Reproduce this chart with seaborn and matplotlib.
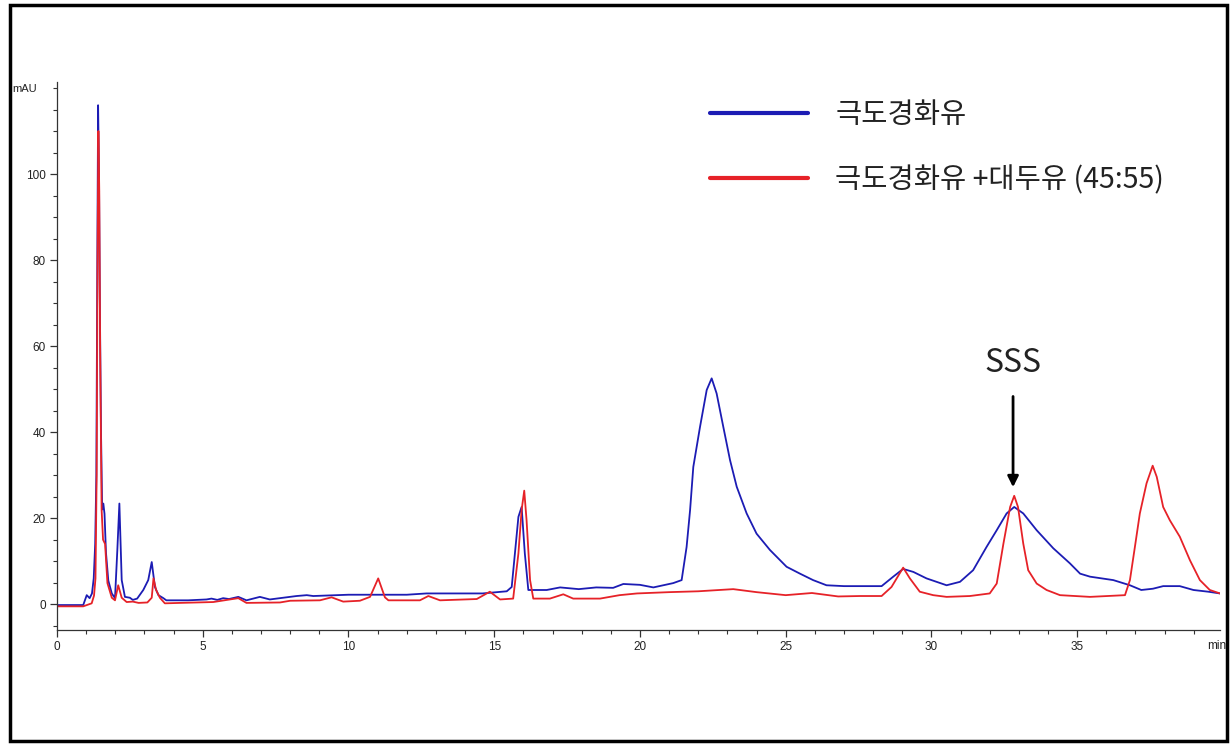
import matplotlib
matplotlib.use("Agg")
import numpy as np
import pandas as pd
import seaborn as sns
import matplotlib.pyplot as plt
from matplotlib.patches import Rectangle
from matplotlib.ticker import MultipleLocator
from matplotlib.lines import Line2D

# ---------------- data ----------------
series_names = ["극도경화유", "극도경화유 +대두유 (45:55)"]

blue_t = [0.0, 0.5, 0.9, 1.02, 1.12, 1.2, 1.26, 1.31, 1.35, 1.38, 1.41, 1.44, 1.47, 1.51, 1.55,
          1.59, 1.63, 1.68, 1.76, 1.88, 1.99, 2.07, 2.14, 2.22, 2.33, 2.5, 2.6, 2.75, 2.96,
          3.13, 3.25, 3.36, 3.48, 3.65, 3.75, 4.5, 5.13, 5.3, 5.5, 5.7, 5.9, 6.22, 6.5, 6.96,
          7.3, 8.22, 8.57, 8.79, 10.0, 12.0, 12.68, 14.6, 15.43, 15.6, 15.71, 15.83, 15.94,
          16.05, 16.17, 16.8, 17.26, 17.9, 18.5, 19.08, 19.43, 20.0, 20.46, 21.14, 21.43,
          21.6, 21.72, 21.83, 22.06, 22.29, 22.46, 22.63, 22.86, 23.09, 23.32, 23.66, 24.0,
          24.46, 25.03, 25.49, 25.94, 26.4, 27.0, 27.55, 28.29, 28.69, 29.03, 29.38, 29.83,
          30.52, 30.98, 31.43, 31.89, 32.24, 32.58, 32.84, 33.15, 33.61, 34.18, 34.75, 35.1,
          35.44, 36.24, 36.81, 37.2, 37.6, 37.95, 38.52, 38.99, 39.5, 39.9]
blue_v = [-0.2, -0.2, -0.2, 2.1, 1.4, 2.5, 6.0, 14.0, 30.0, 75.0, 116.0, 100.0, 70.0, 40.0, 22.0,
          23.4, 21.0, 12.0, 5.5, 2.5, 1.4, 12.6, 23.4, 5.6, 1.7, 1.5, 1.0, 1.3, 3.3,
          5.6, 9.8, 4.0, 2.1, 1.4, 0.9, 0.9, 1.1, 1.3, 1.0, 1.4, 1.2, 1.7, 0.9, 1.7,
          1.1, 1.9, 2.1, 1.9, 2.2, 2.2, 2.5, 2.5, 3.0, 4.0, 11.8, 20.3, 22.6,
          11.8, 3.3, 3.3, 3.9, 3.5, 3.9, 3.8, 4.7, 4.5, 3.9, 4.9, 5.6,
          13.3, 21.9, 31.9, 41.2, 49.8, 52.5, 49.0, 41.2, 33.5, 27.3, 21.1, 16.4,
          12.6, 8.7, 7.1, 5.6, 4.4, 4.2, 4.2, 4.2, 6.4, 8.2, 7.5, 6.0,
          4.4, 5.2, 7.9, 13.3, 17.2, 21.1, 22.6, 21.1, 17.2, 13.0, 9.5, 7.1,
          6.4, 5.6, 4.4, 3.3, 3.6, 4.2, 4.2, 3.3, 2.9, 2.5]

red_t = [0.0, 0.5, 0.9, 1.19, 1.27, 1.32, 1.36, 1.39, 1.42, 1.45, 1.48, 1.53, 1.58, 1.65,
         1.73, 1.88, 1.99, 2.1, 2.22, 2.39, 2.6, 2.8, 3.1, 3.25, 3.31, 3.4, 3.53, 3.7,
         4.22, 5.36, 5.93, 6.22, 6.5, 7.65, 8.0, 9.02, 9.42, 9.82, 10.39, 10.74, 11.02,
         11.25, 11.37, 12.45, 12.74, 13.14, 14.4, 14.85, 15.2, 15.65, 15.83, 15.94, 16.03,
         16.11, 16.23, 16.34, 16.91, 17.37, 17.71, 18.63, 19.3, 19.9, 21.0, 22.0, 23.2,
         24.0, 25.0, 25.9, 26.8, 27.55, 28.29, 28.63, 29.03, 29.26, 29.6, 30.06, 30.52,
         31.32, 32.0, 32.24, 32.47, 32.7, 32.84, 32.97, 33.15, 33.32, 33.61, 33.95, 34.41,
         35.44, 36.64, 36.81, 36.98, 37.15, 37.38, 37.59, 37.73, 37.95, 38.18, 38.52,
         38.87, 39.21, 39.55, 39.9]
red_v = [-0.5, -0.5, -0.5, 0.2, 2.0, 6.0, 30.0, 80.0, 110.0, 96.0, 60.0, 22.0, 15.0, 14.0,
         4.9, 1.5, 0.9, 4.4, 1.5, 0.5, 0.6, 0.3, 0.4, 1.5, 6.0, 3.3, 1.5, 0.2,
         0.3, 0.5, 1.1, 1.4, 0.3, 0.4, 0.8, 0.9, 1.6, 0.6, 0.8, 1.7, 6.0,
         1.6, 0.9, 0.9, 1.9, 0.9, 1.2, 2.9, 1.1, 1.3, 11.8, 21.9, 26.4,
         19.5, 5.6, 1.3, 1.3, 2.3, 1.3, 1.3, 2.1, 2.5, 2.8, 3.0, 3.5,
         2.8, 2.1, 2.6, 1.8, 1.9, 1.9, 4.0, 8.5, 6.0, 2.9, 2.1, 1.7,
         1.9, 2.5, 4.8, 14.1, 22.6, 25.2, 22.6, 14.1, 7.9, 4.8, 3.3, 2.1,
         1.7, 2.1, 5.6, 13.3, 21.1, 28.1, 32.2, 29.6, 22.6, 19.5, 15.7,
         10.2, 5.6, 3.3, 2.5]

x_major = [0, 5, 10, 15, 20, 25, 30, 35]
y_major = [0, 20, 40, 60, 80, 100]
annot_label = "SSS"
annot_x = 32.8
annot_tip = 27.2
annot_text_y = 56.0

# ---------------- styling ----------------
sns.set_theme(style="white")
plt.rcParams['font.family'] = ['Liberation Sans', 'DejaVu Sans']
blue = "#1c1cb4"
red = "#e62228"
cjk = ["Noto Sans CJK KR", "DejaVu Sans"]

W, H = 1232, 745
fig = plt.figure(figsize=(W / 100, H / 100), dpi=100)
ax = fig.add_axes([57 / W, 1 - 630 / H, (1220 - 57) / W, (630 - 82) / H])

df = pd.concat([
    pd.DataFrame({"t": blue_t, "v": blue_v, "series": series_names[0]}),
    pd.DataFrame({"t": red_t, "v": red_v, "series": series_names[1]}),
], ignore_index=True)

sns.lineplot(data=df, x="t", y="v", hue="series", palette=[blue, red],
             estimator=None, sort=False, linewidth=1.3, legend=False, ax=ax)

ax.set_xlim(0, 39.9)
ax.set_ylim(-6.0, 121.4)
ax.set_xlabel("")
ax.set_ylabel("")
ax.set_xticks(x_major)
ax.set_yticks(y_major)
ax.xaxis.set_minor_locator(MultipleLocator(1))
ax.yaxis.set_minor_locator(MultipleLocator(5))
for s in ["top", "right"]:
    ax.spines[s].set_visible(False)
for s in ["left", "bottom"]:
    ax.spines[s].set_color("#333333")
    ax.spines[s].set_linewidth(0.9)
ax.tick_params(which="major", direction="out", length=5, width=0.9, color="#333333",
               labelsize=8.5, labelcolor="#222222", pad=3, left=True, bottom=True)
ax.tick_params(which="minor", direction="out", length=3, width=0.8, color="#333333",
               left=True, bottom=True)

# legend
handles = [Line2D([], [], color=blue, lw=3), Line2D([], [], color=red, lw=3)]
leg = ax.legend(handles, series_names, loc="upper left",
                bbox_to_anchor=(710 / W, 1 - 100 / H), bbox_transform=fig.transFigure,
                frameon=False, handlelength=3.45, handletextpad=0.95, labelspacing=1.24,
                borderpad=0, borderaxespad=0,
                prop={"family": cjk, "size": 20.5})
for txt in leg.get_texts():
    txt.set_color("#222222")

# SSS annotation
ax.annotate(annot_label, xy=(annot_x, annot_tip), xytext=(annot_x, annot_text_y),
            ha="center", va="center", fontsize=23, color="#222222", family=cjk,
            arrowprops=dict(arrowstyle="-|>", color="black", lw=2.0,
                            mutation_scale=16, shrinkA=10, shrinkB=0))

# axis unit labels
fig.text(12 / W, 1 - 89 / H, "mAU", fontsize=8, color="#222222", va="center", ha="left")
fig.text(1207 / W, 1 - 646 / H, "min", fontsize=8.5, color="#222222", va="center", ha="left")

# outer black frame
fig.patches.append(Rectangle((9.5 / W, 4.5 / H), (1227 - 9.5) / W, (740 - 4.5) / H,
                             transform=fig.transFigure, fill=False, edgecolor="black",
                             linewidth=2.5, zorder=10))

fig.savefig("out.png", dpi=100)
